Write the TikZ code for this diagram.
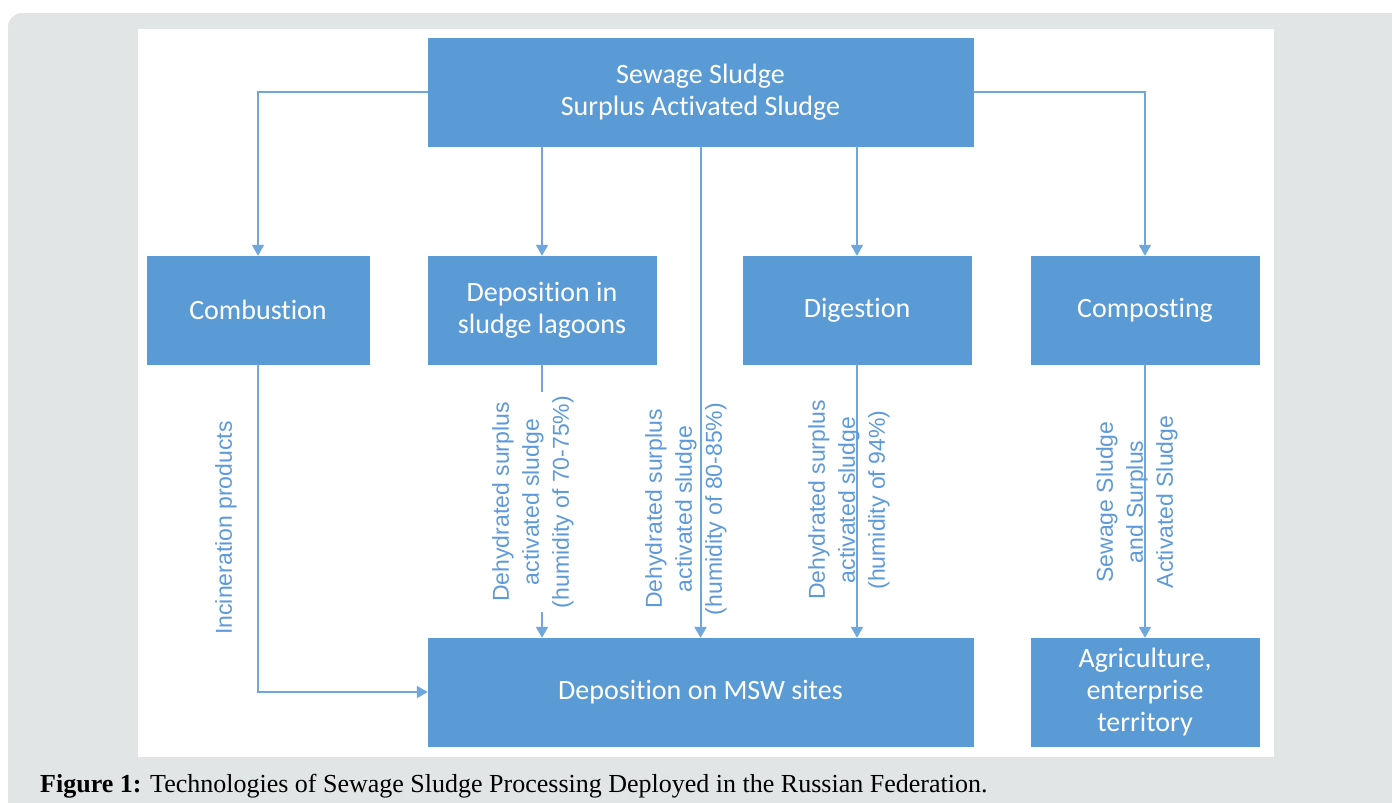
\documentclass[tikz,border=0pt]{standalone}
\usepackage{fontspec}
\setmainfont{Liberation Serif}
\newfontfamily\boxfont[Ligatures=NoCommon]{Carlito}
\newfontfamily\lblfont{Liberation Sans}
\usetikzlibrary{arrows.meta}
\definecolor{panel}{HTML}{E1E5E6}
\definecolor{boxblue}{HTML}{5B9BD5}
\definecolor{lineblue}{HTML}{6FA6DB}
\definecolor{lblblue}{HTML}{5E9ADA}
\tikzset{
  box/.style={fill=boxblue, draw=boxblue, text=white, align=center, inner sep=0pt,
    font=\boxfont\fontsize{28}{32}\selectfont},
  conn/.style={draw=lineblue, line width=2pt, -{Triangle[width=12pt,length=11pt]}},
  lbl/.style={text=lblblue, rotate=90, align=center, inner sep=1pt,
    font=\lblfont\fontsize{23}{30}\selectfont},
}
\begin{document}
\begin{tikzpicture}[x=1pt,y=-1pt]
\useasboundingbox (0,0) rectangle (1392,803);
\clip (0,0) rectangle (1392,803);
\fill[panel, rounded corners=14pt] (8,830) rectangle (1420,13);
\fill[white] (138,29) rectangle (1274,757);

\node[box, minimum width=545, minimum height=108] (top) at (700.5,92) {Sewage Sludge\\Surplus Activated Sludge};
\node[box, minimum width=222, minimum height=108] (comb) at (258,310) {Combustion};
\node[box, minimum width=228, minimum height=108] (lag) at (542,310) {Deposition in\\sludge lagoons};
\node[box, minimum width=228, minimum height=108] (dig) at (857,310) {Digestion};
\node[box, minimum width=228, minimum height=108] (comp) at (1145,310) {Composting};
\node[box, minimum width=545, minimum height=108] (msw) at (700.5,692) {Deposition on MSW sites};
\node[box, minimum width=228, minimum height=108] (agri) at (1145,692) {Agriculture,\\enterprise\\territory};

\draw[conn] (top.west) -| (comb.north);
\draw[conn] (top.south -| lag.north) -- (lag.north);
\draw[conn] (top.south) -- (msw.north);
\draw[conn] (top.south -| dig.north) -- (dig.north);
\draw[conn] (top.east) -| (comp.north);
\draw[conn] (comb.south) |- (msw.west);
\draw[conn] (lag.south) -- (msw.north -| lag.south);
\draw[conn] (dig.south) -- (msw.north -| dig.south);
\draw[conn] (comp.south) -- (agri.north);

\node[lbl] (l1) at (226,528) {Incineration products};
\node[lbl, fill=white, inner sep=4pt] (l2) at (533,502) {Dehydrated surplus\\activated sludge\\(humidity of 70-75\%)};
\node[lbl] (l3) at (686,509) {Dehydrated surplus\\activated sludge\\(humidity of 80-85\%)};
\node[lbl] (l4) at (849,500) {Dehydrated surplus\\activated sludge\\(humidity of 94\%)};
\node[lbl] (l5) at (1137,502) {Sewage Sludge\\and Surplus\\Activated Sludge};

\node[anchor=base west, inner sep=0pt, font=\fontsize{26}{28}\selectfont] (cap) at (40,792) {\textbf{Figure 1:} Technologies of Sewage Sludge Processing Deployed in the Russian Federation.};
\end{tikzpicture}
\end{document}
